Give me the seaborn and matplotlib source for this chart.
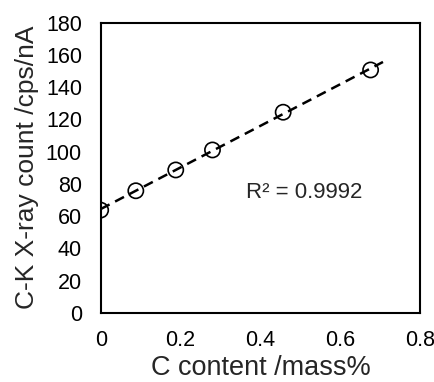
import matplotlib
matplotlib.use("Agg")
import matplotlib.pyplot as plt
import numpy as np
import pandas as pd
import seaborn as sns

# 数据
c_content = [0.0, 0.088, 0.188, 0.280, 0.457, 0.676]
xray_count = [63.7, 75.7, 88.6, 101.0, 124.4, 150.6]
trend_end = 0.707
r2_text = "R² = 0.9992"

x_ticks = [0, 0.2, 0.4, 0.6, 0.8]
x_tick_labels = ["0", "0.2", "0.4", "0.6", "0.8"]
y_ticks = list(range(0, 181, 20))

sns.set_style("white")
plt.rcParams['font.family'] = ['Liberation Sans', 'DejaVu Sans']

df = pd.DataFrame({"C": c_content, "count": xray_count})

# 线性拟合
slope, intercept = np.polyfit(df["C"], df["count"], 1)
trend = pd.DataFrame({"C": [0.0, trend_end]})
trend["count"] = slope * trend["C"] + intercept

fig = plt.figure(figsize=(4.34, 3.82), dpi=100)
ax = fig.add_axes([0.232, 0.181, 0.736, 0.760])

sns.scatterplot(data=df, x="C", y="count", ax=ax, s=120, marker="o",
                facecolor="none", edgecolor="black", linewidth=1.2, zorder=3)
sns.lineplot(data=trend, x="C", y="count", ax=ax, color="black",
             linewidth=1.8, zorder=4)
ax.lines[-1].set_dashes((4, 2.5))

ax.text(0.365, 74.5, r2_text, fontsize=16, va="center", ha="left")

ax.set_xlim(0, 0.8)
ax.set_ylim(0, 180)
ax.set_xticks(x_ticks)
ax.set_xticklabels(x_tick_labels, fontsize=15.5)
ax.set_yticks(y_ticks)
ax.set_yticklabels([str(v) for v in y_ticks], fontsize=15.5)
ax.tick_params(direction="in", length=5, width=1.2,
               colors="black", top=False, right=False)
ax.tick_params(axis="x", pad=12)
ax.tick_params(axis="y", pad=13.5)
ax.set_xlabel("C content /mass%", fontsize=19.5, labelpad=3)
ax.set_ylabel("C-K X-ray count /cps/nA", fontsize=19, labelpad=5)
for sp in ax.spines.values():
    sp.set_color("black")
    sp.set_linewidth(1.5)

fig.savefig("out.png", dpi=100)
plt.close()
